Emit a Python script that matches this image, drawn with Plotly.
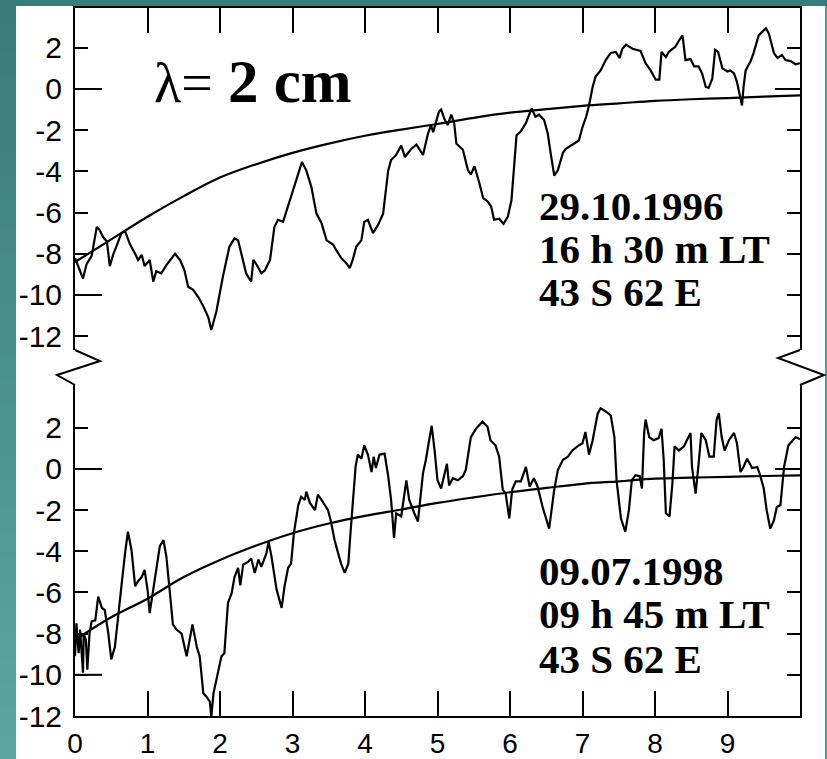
import plotly.graph_objects as go

# ---- Record 1: 29.10.1996, 16 h 30 m LT (upper panel) ----
upper_x = [0.00, 0.03, 0.07, 0.11, 0.16, 0.23, 0.30, 0.34, 0.39, 0.44, 0.48, 0.53, 0.57, 0.64, 0.69,
           0.76, 0.83, 0.87, 0.92, 0.96, 1.03, 1.08, 1.12, 1.19, 1.26, 1.31, 1.38, 1.45, 1.51, 1.56,
           1.63, 1.70, 1.77, 1.84, 1.88, 1.95, 2.04, 2.13, 2.20, 2.25, 2.30, 2.36, 2.43, 2.46, 2.50,
           2.57, 2.62, 2.69, 2.75, 2.80, 2.87, 2.94, 3.01, 3.08, 3.13, 3.19, 3.26, 3.33, 3.40, 3.47,
           3.56, 3.60, 3.67, 3.74, 3.79, 3.83, 3.88, 3.95, 3.99, 4.04, 4.11, 4.18, 4.25, 4.32, 4.36,
           4.43, 4.50, 4.55, 4.64, 4.71, 4.80, 4.87, 4.91, 4.94, 4.98, 5.02, 5.05, 5.10, 5.14, 5.19,
           5.23, 5.26, 5.35, 5.42, 5.46, 5.51, 5.58, 5.63, 5.69, 5.74, 5.78, 5.85, 5.91, 5.97, 6.02,
           6.06, 6.09, 6.15, 6.22, 6.27, 6.30, 6.35, 6.40, 6.47, 6.52, 6.56, 6.61, 6.66, 6.73, 6.77,
           6.86, 6.95, 7.00, 7.05, 7.09, 7.14, 7.18, 7.25, 7.32, 7.39, 7.46, 7.51, 7.55, 7.60, 7.69,
           7.80, 7.87, 7.94, 8.01, 8.06, 8.09, 8.15, 8.19, 8.28, 8.34, 8.38, 8.42, 8.49, 8.54, 8.60,
           8.65, 8.70, 8.74, 8.79, 8.83, 8.87, 8.93, 9.00, 9.04, 9.09, 9.13, 9.18, 9.20, 9.22, 9.25,
           9.32, 9.36, 9.43, 9.53, 9.57, 9.64, 9.69, 9.75, 9.80, 9.87, 9.94, 10.00]
upper_y = [-8.2, -8.5, -8.8, -9.2, -8.5, -8.1, -6.7, -6.85, -7.2, -7.4, -8.6, -8.0, -7.65, -7.0, -6.9,
           -7.55, -8.0, -8.3, -8.05, -8.6, -8.3, -9.35, -8.85, -8.95, -8.55, -8.3, -8.0, -8.3, -8.8, -9.6,
           -9.75, -10.1, -10.55, -11.1, -11.7, -10.8, -9.1, -7.65, -7.25, -7.35, -8.15, -8.95, -9.35, -8.3, -8.5,
           -8.95, -8.8, -8.3, -6.7, -6.35, -6.45, -5.7, -4.9, -4.1, -3.55, -3.95, -4.75, -6.05, -6.5, -7.35,
           -7.55, -7.8, -8.2, -8.45, -8.7, -8.3, -7.65, -7.35, -6.45, -6.35, -7.0, -6.6, -6.05, -3.95, -3.45,
           -3.2, -2.75, -3.3, -2.9, -2.7, -3.2, -2.15, -1.75, -2.1, -1.65, -1.1, -1.0, -1.5, -1.75, -1.25,
           -1.65, -2.65, -2.95, -3.95, -4.15, -3.75, -4.6, -5.3, -5.45, -5.7, -6.35, -6.3, -6.55, -6.2, -5.4,
           -3.45, -2.25, -2.05, -1.65, -1.2, -0.95, -1.35, -1.25, -1.5, -2.15, -3.1, -4.2, -3.95, -3.1, -2.9,
           -2.7, -2.5, -1.85, -1.35, -0.8, 0.1, 0.6, 0.9, 1.4, 1.75, 1.8, 1.5, 1.95, 2.15, 1.95,
           1.85, 1.25, 0.9, 0.45, 0.45, 1.8, 1.55, 1.8, 2.05, 2.4, 2.6, 1.4, 1.45, 1.1, 1.1,
           0.75, 0.1, 0.05, 0.5, 1.9, 1.8, 1.0, 0.85, 0.9, 0.75, 0.35, -0.55, -0.8, 0.05, 0.9,
           1.35, 1.75, 2.6, 2.95, 2.7, 1.75, 1.5, 1.65, 1.4, 1.35, 1.2, 1.25]

# ---- Record 2: 09.07.1998, 09 h 45 m LT (lower panel) ----
lower_x = [0.00, 0.02, 0.05, 0.07, 0.11, 0.12, 0.15, 0.17, 0.20, 0.23, 0.28, 0.32, 0.37, 0.41, 0.46,
           0.50, 0.55, 0.60, 0.64, 0.69, 0.73, 0.78, 0.83, 0.87, 0.92, 0.96, 1.00, 1.03, 1.08, 1.13,
           1.17, 1.22, 1.26, 1.31, 1.35, 1.40, 1.47, 1.54, 1.58, 1.62, 1.68, 1.72, 1.77, 1.81, 1.86,
           1.88, 1.91, 1.97, 2.02, 2.06, 2.11, 2.16, 2.20, 2.25, 2.28, 2.32, 2.39, 2.43, 2.48, 2.53,
           2.57, 2.64, 2.67, 2.71, 2.78, 2.85, 2.89, 2.94, 2.98, 3.02, 3.08, 3.12, 3.17, 3.19, 3.24,
           3.31, 3.35, 3.40, 3.44, 3.49, 3.53, 3.58, 3.63, 3.67, 3.72, 3.77, 3.80, 3.83, 3.87, 3.90,
           3.95, 3.99, 4.04, 4.09, 4.12, 4.15, 4.20, 4.27, 4.32, 4.36, 4.40, 4.43, 4.50, 4.57, 4.61,
           4.68, 4.73, 4.80, 4.84, 4.88, 4.92, 4.96, 5.00, 5.05, 5.10, 5.13, 5.16, 5.21, 5.28, 5.35,
           5.39, 5.46, 5.53, 5.62, 5.69, 5.73, 5.80, 5.85, 5.90, 5.94, 5.99, 6.03, 6.08, 6.15, 6.22,
           6.27, 6.33, 6.38, 6.45, 6.54, 6.61, 6.66, 6.73, 6.80, 6.86, 6.93, 7.00, 7.04, 7.09, 7.14,
           7.21, 7.25, 7.32, 7.39, 7.44, 7.47, 7.53, 7.59, 7.64, 7.68, 7.73, 7.79, 7.82, 7.85, 7.87,
           7.92, 7.98, 8.05, 8.09, 8.12, 8.15, 8.20, 8.24, 8.27, 8.33, 8.40, 8.44, 8.49, 8.51, 8.56,
           8.60, 8.64, 8.70, 8.75, 8.81, 8.85, 8.88, 8.92, 8.96, 9.02, 9.09, 9.13, 9.18, 9.22, 9.27,
           9.34, 9.41, 9.45, 9.50, 9.54, 9.59, 9.64, 9.68, 9.73, 9.78, 9.84, 9.89, 9.94, 10.00]
lower_y = [-9.1, -7.5, -8.95, -7.8, -9.9, -8.0, -8.3, -9.75, -8.0, -7.4, -7.35, -6.2, -6.75, -6.85, -8.0,
           -9.25, -8.65, -7.15, -5.7, -4.1, -3.05, -3.95, -5.7, -5.45, -5.25, -4.9, -5.85, -7.0, -5.85, -4.75,
           -3.75, -3.45, -4.25, -6.05, -7.55, -7.8, -8.0, -9.1, -8.3, -7.55, -8.65, -9.1, -10.9, -11.05, -11.3,
           -12.05, -10.9, -9.9, -9.1, -8.95, -6.5, -6.05, -5.25, -4.8, -5.65, -4.65, -4.5, -4.35, -5.05, -4.4,
           -4.75, -4.1, -3.55, -4.25, -5.85, -6.75, -5.7, -4.8, -4.6, -3.1, -1.75, -1.35, -1.5, -1.1, -1.65,
           -2.0, -1.25, -1.5, -1.75, -2.0, -2.55, -3.45, -4.1, -4.6, -5.05, -4.6, -3.1, -1.85, 0.1, 0.7,
           0.5, 1.15, 0.7, -0.15, 0.6, 0.05, 0.7, 0.75, -0.35, -1.5, -3.35, -2.15, -2.3, -0.55, -1.5,
           -2.15, -2.55, -0.2, 0.45, 1.3, 2.1, 0.9, -0.55, -0.95, -0.15, 0.25, -0.8, -0.45, -0.55, -0.35,
           -0.05, 1.55, 1.95, 2.3, 2.05, 1.4, 1.15, 0.6, -1.0, -1.2, -2.4, -1.0, -0.6, -0.6, 0.1,
           -0.85, -0.45, -0.85, -1.85, -2.9, -1.0, -0.05, 0.45, 0.6, 0.9, 1.1, 1.25, 1.8, 0.7, 1.4,
           2.7, 2.95, 2.8, 2.6, 1.55, -0.55, -2.4, -3.05, -2.0, -0.55, -0.3, -0.35, -0.95, 1.75, 2.4,
           1.55, 1.4, 1.5, 1.95, 0.45, -2.15, -2.3, -0.7, 1.1, 0.9, 1.1, 1.4, 1.75, 0.1, -1.2,
           0.2, 1.75, 1.4, 0.6, 0.6, 2.4, 2.7, 1.55, 0.9, 1.4, 1.75, 1.25, -0.15, 0.1, 0.5,
           0.05, 0.1, -0.3, -0.95, -2.0, -2.9, -2.5, -1.85, -1.75, 0.1, 1.15, 1.35, 1.55, 1.45]

# ---- smooth trend curves ----
trend_x = [0.0, 0.5, 1.0, 1.5, 2.0, 2.5, 3.0, 3.5, 4.0, 4.5, 5.0,
           5.5, 6.0, 6.5, 7.0, 7.5, 8.0, 8.5, 9.0, 9.5, 10.0]
upper_trend = [-8.4, -7.3, -6.2, -5.2, -4.3, -3.65, -3.1, -2.65, -2.27, -1.97, -1.7,
               -1.4, -1.15, -0.98, -0.82, -0.7, -0.58, -0.5, -0.44, -0.37, -0.31]
lower_trend = [-8.3, -7.2, -6.3, -5.25, -4.42, -3.72, -3.12, -2.65, -2.28, -1.97, -1.65,
               -1.38, -1.13, -0.92, -0.72, -0.6, -0.47, -0.42, -0.38, -0.34, -0.31]

ytick_vals = [-12, -10, -8, -6, -4, -2, 0, 2]
ytick_text = ["-12", "-10", "-8", "-6", "-4", "-2", "0", "2"]
xtick_vals = [0, 1, 2, 3, 4, 5, 6, 7, 8, 9]
xtick_text = ["0", "1", "2", "3", "4", "5", "6", "7", "8", "9"]

upper_labels = ["29.10.1996", "16 h 30 m LT", "43 S 62 E"]
lower_labels = ["09.07.1998", "09 h 45 m LT", "43 S 62 E"]
title_text = "λ=<b><span style='font-size:61px'> 2 cm</span></b>"

# ---- page geometry (pixels) ----
W, H = 827, 759
ML, MR, MT, MB = 75, 27, 8, 43
PW = W - ML - MR
PH = H - MT - MB


def fx(px):
    return (px - ML) / PW


def fy(py):
    return (H - MB - py) / PH


UPPER_BOTTOM_PX = 350
LOWER_TOP_PX = 385
AX = dict(color="black", width=2)
CURVE = dict(color="black", width=2.2)

fig = go.Figure()
fig.add_trace(go.Scatter(x=upper_x, y=upper_y, xaxis="x2", yaxis="y2", mode="lines",
                         line=CURVE, hoverinfo="skip"))
fig.add_trace(go.Scatter(x=trend_x, y=upper_trend, xaxis="x2", yaxis="y2", mode="lines",
                         line=dict(CURVE, shape="spline"), hoverinfo="skip"))
fig.add_trace(go.Scatter(x=lower_x, y=lower_y, xaxis="x", yaxis="y", mode="lines",
                         line=CURVE, hoverinfo="skip"))
fig.add_trace(go.Scatter(x=trend_x, y=lower_trend, xaxis="x", yaxis="y", mode="lines",
                         line=dict(CURVE, shape="spline"), hoverinfo="skip"))

tick_font = dict(family="Liberation Sans, Arial, sans-serif", size=30, color="black")
common_x = dict(range=[0, 10], showgrid=False, zeroline=False, showline=True, automargin=False,
                linecolor="black", linewidth=2, ticks="inside", ticklen=25, tickwidth=2,
                tickcolor="black", tickvals=xtick_vals, ticktext=xtick_text, mirror=False)
common_y = dict(showgrid=False, zeroline=False, showline=True, linecolor="black", linewidth=2,
                automargin=False, mirror="ticks", ticks="inside", ticklen=13, tickwidth=2,
                tickcolor="black", tickvals=ytick_vals, ticktext=ytick_text, tickfont=tick_font,
                ticklabelstandoff=5)

shapes = []

# teal frame around the white sheet (vertical gradient on the left strip)
top_rgb = (58, 123, 123)
bot_rgb = (92, 166, 160)
n_bands = 30
for i in range(n_bands):
    t = i / (n_bands - 1)
    c = tuple(int(round(a + (b - a) * t)) for a, b in zip(top_rgb, bot_rgb))
    y0 = H * i / n_bands
    y1 = min(H, H * (i + 1) / n_bands + 1)
    shapes.append(dict(type="rect", xref="paper", yref="paper", x0=fx(0), x1=fx(16),
                       y0=fy(y1), y1=fy(y0), line=dict(width=0), fillcolor="rgb(%d,%d,%d)" % c,
                       layer="below"))
shapes.append(dict(type="rect", xref="paper", yref="paper", x0=fx(0), x1=fx(W),
                   y0=fy(6), y1=fy(0), line=dict(width=0), fillcolor="rgb(58,123,123)", layer="below"))
shapes.append(dict(type="rect", xref="paper", yref="paper", x0=fx(825), x1=fx(W),
                   y0=fy(H), y1=fy(6), line=dict(width=0), fillcolor="rgb(74,160,145)", layer="below"))

# longer ticks at 0 and -10 on the left, at 0 on the right
for xr, yr in (("x domain", "y"), ("x2 domain", "y2")):
    for v in (0, -10):
        shapes.append(dict(type="line", xref=xr, yref=yr, x0=0, x1=27 / PW, y0=v, y1=v, line=AX))
    shapes.append(dict(type="line", xref=xr, yref=yr, x0=1 - 25 / PW, x1=1, y0=0, y1=0, line=AX))

# axis break marks between the two panels
left_break = [(75, UPPER_BOTTOM_PX), (100, 361), (57, 375), (75, LOWER_TOP_PX)]
right_break = [(800, UPPER_BOTTOM_PX), (778, 358), (824, 375), (800, LOWER_TOP_PX)]
for pts in (left_break, right_break):
    path = "M " + " L ".join("%f,%f" % (fx(px), fy(py)) for px, py in pts)
    shapes.append(dict(type="path", xref="paper", yref="paper", path=path, line=AX))

annotations = [dict(xref="paper", yref="paper", x=fx(152), y=fy(82), xanchor="left", yanchor="middle",
                    text=title_text, showarrow=False,
                    font=dict(family="Liberation Serif, Times New Roman, serif", size=56, color="black"))]
label_font = dict(family="Liberation Serif, Times New Roman, serif", size=41, color="black")
for labels, centers in ((upper_labels, (206, 249, 292)), (lower_labels, (571, 614, 659))):
    for txt, cy in zip(labels, centers):
        annotations.append(dict(xref="paper", yref="paper", x=fx(537), y=fy(cy), xanchor="left",
                                yanchor="middle", text="<b>%s</b>" % txt, showarrow=False,
                                font=label_font))

fig.update_layout(
    template="none",
    width=W, height=H,
    margin=dict(l=ML, r=MR, t=MT, b=MB, pad=0, autoexpand=False),
    paper_bgcolor="white", plot_bgcolor="white",
    showlegend=False,
    xaxis=dict(common_x, anchor="y", side="bottom", domain=[0, 1], ticklabelstandoff=1,
               tickfont=dict(tick_font, size=28)),
    xaxis2=dict(common_x, anchor="y2", side="top", domain=[0, 1], matches="x",
                showticklabels=False),
    yaxis=dict(common_y, anchor="x", domain=[0, fy(LOWER_TOP_PX)], range=[-12, 4.08]),
    yaxis2=dict(common_y, anchor="x2", domain=[fy(UPPER_BOTTOM_PX), 1], range=[-12.67, 3.93]),
    shapes=shapes,
    annotations=annotations,
)

fig.write_html("out.html")
